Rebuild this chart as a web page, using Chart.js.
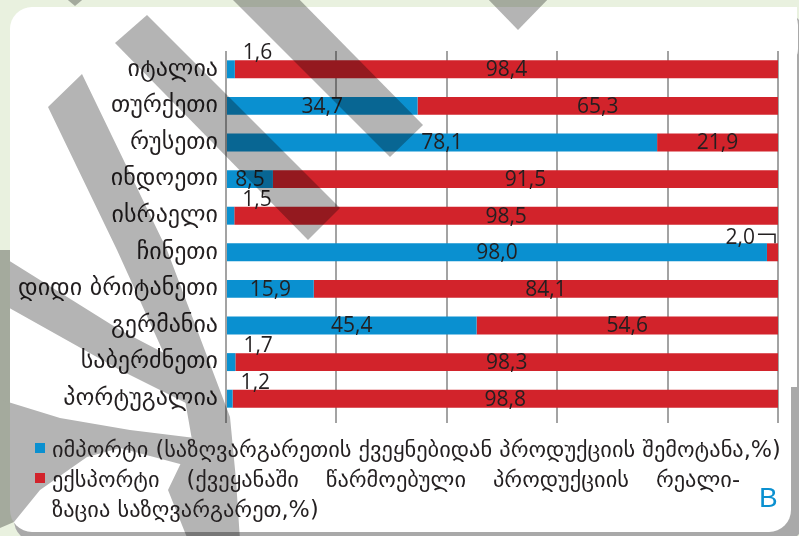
<!DOCTYPE html>
<html>
<head>
<meta charset="utf-8">
<script src="https://cdn.jsdelivr.net/npm/chart.js@4.4.1/dist/chart.umd.min.js"></script>
<style>
  html, body { margin: 0; padding: 0; background: #e9f1df; }
  #wrap { position: relative; width: 799px; height: 536px; overflow: hidden; }
  #chart { position: absolute; left: 0; top: 0; }
  #legend { position: absolute; left: 0; top: 0; font-family: 'DejaVu Sans', sans-serif; font-size: 22.4px; color: #231f20; }
  .lg-line { position: absolute; left: 52px; height: 30px; line-height: 30px; white-space: nowrap; }
  .lg-just { text-align: justify; text-align-last: justify; white-space: normal; }
  .lg-box { position: absolute; left: 35px; width: 10px; height: 10px; }
  #tag { position: absolute; left: 759px; top: 484px; font-family: 'Liberation Sans', Arial, sans-serif; font-size: 28px; line-height: 28px; color: #0a90d0; }
</style>
</head>
<body>
<div id="wrap">
  <canvas id="chart" width="799" height="536"></canvas>
  <div id="legend"></div>
  <div id="tag">B</div>
</div>
<script>
// categories and shares (%)
const countries = ['იტალია', 'თურქეთი', 'რუსეთი', 'ინდოეთი', 'ისრაელი', 'ჩინეთი', 'დიდი ბრიტანეთი', 'გერმანია', 'საბერძნეთი', 'პორტუგალია'];
const importShare = [1.6, 34.7, 78.1, 8.5, 1.5, 98.0, 15.9, 45.4, 1.7, 1.2];
const exportShare = [98.4, 65.3, 21.9, 91.5, 98.5, 2.0, 84.1, 54.6, 98.3, 98.8];
const seriesNames = [
  ['იმპორტი (საზღვარგარეთის ქვეყნებიდან პროდუქციის შემოტანა,%)'],
  ['ექსპორტი (ქვეყანაში წარმოებული პროდუქციის რეალი-', 'ზაცია საზღვარგარეთ,%)']
];
const xTicks = [0, 20, 40, 60, 80, 100];

const BLUE = '#0a90d0';
const RED = '#d2232b';
const numFont = "'Open Sans', 'Liberation Sans', sans-serif";

// decorative watermark stripes over the picture (page pixels)
const stripes = [
  [[115, 43], [147, 15], [340, 208], [308, 240]],
  [[223, -10], [290, -10], [423, 125], [390, 157]],
  [[484, -5], [552, -5], [518, 30]],
  [[62, -5], [88, -5], [75, 6]],
  [[48, 107], [82, 74], [167, 250], [230, 417], [236, 480], [240, 540], [188, 540], [168, 490], [192, 440], [185, 400], [117, 250]],
  [[-5, 255], [0, 255], [120, 330], [200, 372], [200, 410], [120, 370], [-5, 300]],
  [[-5, 250], [10, 250], [10, 520], [-5, 520]],
  [[-5, 398], [60, 418], [130, 430], [195, 438], [195, 468], [120, 448], [87, 457], [40, 490], [14, 522], [-5, 530]]
];

const pageBg = {
  id: 'pageBg',
  beforeDraw(chart) {
    const ctx = chart.ctx;
    ctx.save();
    ctx.fillStyle = '#e9f1df';
    ctx.fillRect(0, 0, chart.width, chart.height);
    ctx.fillStyle = '#a9a9a9';
    ctx.beginPath();
    ctx.roundRect(14, 12, 790, 530, 22);
    ctx.fill();
    ctx.fillStyle = '#ffffff';
    ctx.beginPath();
    ctx.roundRect(10, 7, 781, 525, 22);
    ctx.fill();
    ctx.fillRect(700, 7, 97, 380);
    ctx.beginPath();
    ctx.roundRect(700, 7, 98, 60, 18);
    ctx.fill();
    ctx.restore();
  },
  afterDraw(chart) {
    const off = document.createElement('canvas');
    off.width = chart.width;
    off.height = chart.height;
    const o = off.getContext('2d');
    o.fillStyle = '#b4b4b4';
    stripes.forEach(poly => {
      o.beginPath();
      poly.forEach(([x, y], i) => (i ? o.lineTo(x, y) : o.moveTo(x, y)));
      o.closePath();
      o.fill();
    });
    const ctx = chart.ctx;
    ctx.save();
    ctx.globalCompositeOperation = 'multiply';
    ctx.drawImage(off, 0, 0);
    ctx.restore();
  }
};

const fmt = v => v.toFixed(1).replace('.', ',');

const barLabels = {
  id: 'barLabels',
  afterDatasetsDraw(chart) {
    const ctx = chart.ctx;
    ctx.save();
    ctx.font = '21px ' + numFont;
    ctx.fillStyle = '#231f20';
    ctx.strokeStyle = '#231f20';
    chart.data.datasets.forEach((ds, di) => {
      chart.getDatasetMeta(di).data.forEach((bar, i) => {
        const v = ds.data[i];
        const top = bar.y - bar.height / 2;
        if (v >= 5) {
          ctx.textAlign = 'center';
          ctx.textBaseline = 'middle';
          ctx.fillText(fmt(v), (bar.x + bar.base) / 2, bar.y + 1);
        } else if (di === 0) {
          ctx.textAlign = 'left';
          ctx.textBaseline = 'alphabetic';
          ctx.fillText(fmt(v), bar.x + 8, top - 1);
        } else {
          // small tail segment: label above with a leader line
          const tx = bar.base - 12;
          ctx.textAlign = 'right';
          ctx.textBaseline = 'alphabetic';
          ctx.fillText(fmt(v), tx, top + 1);
          ctx.lineWidth = 1.5;
          ctx.beginPath();
          ctx.moveTo(tx + 3, top - 9);
          ctx.lineTo(bar.x - 3, top - 9);
          ctx.lineTo(bar.x - 3, top);
          ctx.stroke();
        }
      });
    });
    ctx.restore();
  }
};

new Chart(document.getElementById('chart'), {
  type: 'bar',
  data: {
    labels: countries,
    datasets: [
      { label: seriesNames[0].join(' '), data: importShare, backgroundColor: BLUE },
      { label: seriesNames[1].join(' '), data: exportShare, backgroundColor: RED }
    ]
  },
  options: {
    indexAxis: 'y',
    responsive: false,
    animation: false,
    devicePixelRatio: 1,
    datasets: { bar: { barPercentage: 0.49, categoryPercentage: 1.0 } },
    layout: { padding: { top: 51, right: 21, bottom: 113, left: 0 } },
    plugins: { legend: { display: false }, tooltip: { enabled: false } },
    scales: {
      x: {
        stacked: true,
        min: xTicks[0],
        max: xTicks[xTicks.length - 1],
        afterBuildTicks: s => { s.ticks = xTicks.map(v => ({ value: v })); },
        ticks: { display: false },
        grid: { color: '#a3a3a3', lineWidth: 2, tickLength: 6 },
        border: { display: false }
      },
      y: {
        stacked: true,
        grid: { display: false, drawTicks: false },
        border: { display: false },
        ticks: { color: '#231f20', padding: 8, font: { family: "'DejaVu Sans', sans-serif", size: 24 } },
        afterFit: s => { s.width = 226; }
      }
    }
  },
  plugins: [pageBg, barLabels]
});

// legend built from the series names
const legend = document.getElementById('legend');
const colors = [BLUE, RED];
let row = 0;
seriesNames.forEach((lines, si) => {
  const box = document.createElement('div');
  box.className = 'lg-box';
  box.style.background = colors[si];
  box.style.top = (443 + row * 29.5) + 'px';
  legend.appendChild(box);
  lines.forEach((txt, li) => {
    const d = document.createElement('div');
    d.className = 'lg-line';
    if (lines.length > 1 && li < lines.length - 1) {
      d.classList.add('lg-just');
      d.style.width = '688px';
    }
    d.style.top = (434 + row * 30) + 'px';
    d.textContent = txt;
    legend.appendChild(d);
    row++;
  });
});
</script>
</body>
</html>
